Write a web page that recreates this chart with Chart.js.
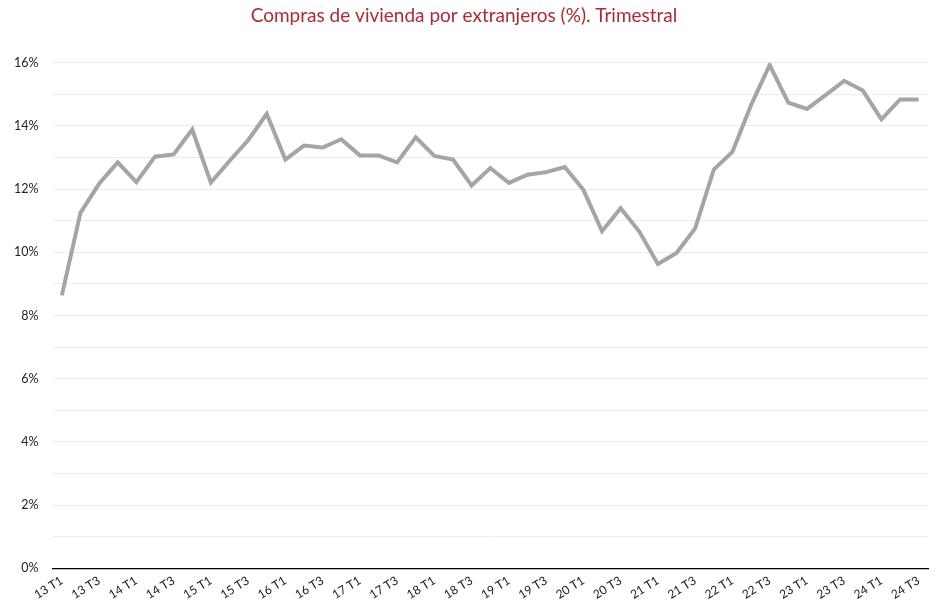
<!DOCTYPE html>
<html>
<head>
<meta charset="utf-8">
<script src="https://cdn.jsdelivr.net/npm/chart.js@4"></script>
<style>
  html, body { margin: 0; padding: 0; background: #fff; }
  #wrap { width: 937px; height: 615px; }
</style>
</head>
<body>
<div id="wrap"><canvas id="comprasChart"></canvas></div>
<script>
// Trimestres 2013 T1 .. 2024 T3
const trimestres = [
    "13 T1", "13 T2", "13 T3", "13 T4",
    "14 T1", "14 T2", "14 T3", "14 T4",
    "15 T1", "15 T2", "15 T3", "15 T4",
    "16 T1", "16 T2", "16 T3", "16 T4",
    "17 T1", "17 T2", "17 T3", "17 T4",
    "18 T1", "18 T2", "18 T3", "18 T4",
    "19 T1", "19 T2", "19 T3", "19 T4",
    "20 T1", "20 T2", "20 T3", "20 T4",
    "21 T1", "21 T2", "21 T3", "21 T4",
    "22 T1", "22 T2", "22 T3", "22 T4",
    "23 T1", "23 T2", "23 T3", "23 T4",
    "24 T1", "24 T2", "24 T3"
];

// % de compras de vivienda por extranjeros
const porcentajes = [
    8.64, 11.25, 12.17, 12.85,
    12.22, 13.03, 13.10, 13.89,
    12.21, 12.89, 13.55, 14.38,
    12.94, 13.38, 13.32, 13.58,
    13.07, 13.07, 12.85, 13.64,
    13.05, 12.94, 12.12, 12.67,
    12.20, 12.46, 12.54, 12.70,
    11.98, 10.67, 11.40, 10.66,
    9.63, 9.98, 10.76, 12.62,
    13.18, 14.66, 15.93, 14.74,
    14.54, 14.98, 15.43, 15.12,
    14.21, 14.84, 14.84
];

const ejeY = [0, 2, 4, 6, 8, 10, 12, 14, 16];

document.addEventListener("DOMContentLoaded", () => {

    const canvas = document.getElementById("comprasChart");

    new Chart(canvas, {
        type: "line",
        data: {
            labels: trimestres,
            datasets: [{
                label: "Compras por extranjeros",
                data: porcentajes,
                borderColor: "#a5a5a5",
                borderWidth: 4,
                pointRadius: 0,
                tension: 0,
                fill: false
            }]
        },
        options: {
            responsive: true,
            maintainAspectRatio: false,
            animation: false,
            layout: {
                padding: { left: 0, right: 9, top: 0, bottom: 8 }
            },
            plugins: {
                legend: { display: false },
                tooltip: { enabled: false },
                title: {
                    display: true,
                    text: "Compras de vivienda por extranjeros (%). Trimestral",
                    color: "#b02a33",
                    font: { family: "Lato", size: 19, weight: "normal" },
                    padding: { top: 4, bottom: 36 }
                }
            },
            scales: {
                x: {
                    offset: true,
                    grid: { display: false, drawTicks: false },
                    border: { display: true, color: "#000", width: 1.3 },
                    ticks: {
                        autoSkip: false,
                        minRotation: 32,
                        maxRotation: 32,
                        padding: 5,
                        color: "#222",
                        font: { family: "Lato", size: 12 },
                        callback: function (val, i) {
                            return i % 2 === 0 ? this.getLabelForValue(val) : "";
                        }
                    }
                },
                y: {
                    min: 0,
                    max: 16,
                    grid: { color: "#ececec", lineWidth: 1, drawTicks: false },
                    border: { display: false },
                    ticks: {
                        stepSize: 1,
                        padding: 14,
                        color: "#222",
                        font: { family: "Lato", size: 12.5 },
                        callback: (v) => ejeY.includes(v) ? v + "%" : ""
                    }
                }
            }
        }
    });
});
</script>
</body>
</html>
